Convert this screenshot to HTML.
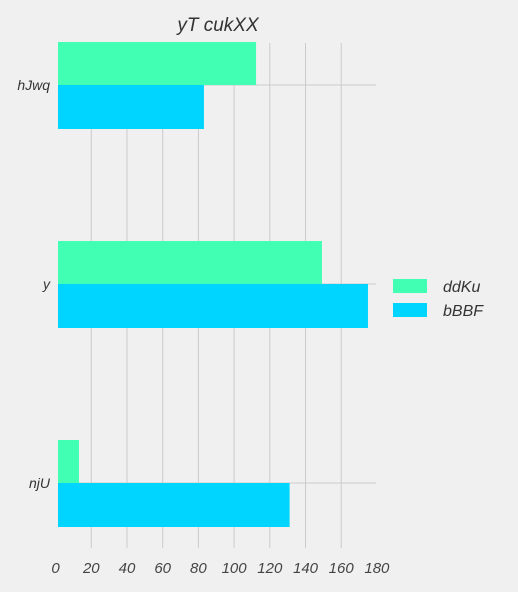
<!DOCTYPE html>
<html><head><meta charset="utf-8"><style>
body{margin:0;background:#f0f0f0;}
svg{display:block;font-family:"Liberation Sans",sans-serif;}
</style></head><body>
<svg width="518" height="592" viewBox="0 0 518 592" id="chart">
<rect width="518" height="592" fill="#f0f0f0"/>
<text x="218" y="31" text-anchor="middle" font-size="19" font-style="italic" fill="#333">yT cukXX</text>
<g id="grid"></g><g id="bars"></g><g id="labels"></g>
<g>
<rect x="393" y="279" width="34" height="14" fill="#41ffb3"/>
<text x="443" y="292" font-size="16" font-style="italic" fill="#333">ddKu</text>
<rect x="393" y="303" width="34" height="14" fill="#00d5ff"/>
<text x="443" y="316" font-size="16" font-style="italic" fill="#333">bBBF</text>
</g>
</svg>
<script>
const categories=["hJwq","y","njU"];
const ddKu=[112.3,149.2,13.1];
const bBBF=[83.1,175,131.1];
const ticks=[0,20,40,60,80,100,120,140,160,180];
const NS="http://www.w3.org/2000/svg";
const x=v=>55.6+1.785*v;
const yc=i=>85+199*i;
const plotLeft=58,plotRight=376,plotTop=43,plotBottom=548,bh=43;
function mk(t,a,p){const e=document.createElementNS(NS,t);for(const k in a)e.setAttribute(k,a[k]);p.appendChild(e);return e;}
const g=document.getElementById('grid'),b=document.getElementById('bars'),l=document.getElementById('labels');
ticks.forEach(t=>{
 if(t>0&&x(t)<plotRight-2){const ln=mk('line',{x1:x(t),x2:x(t),y1:plotTop,y2:plotBottom,stroke:'#cbcbcb','stroke-width':1},g);
 
 }
 const tx=mk('text',{x:x(t),y:573,'text-anchor':'middle','font-size':15,'font-style':'italic',fill:'#444'},l);
 tx.textContent=t;
 
 
});
categories.forEach((c,i)=>{
 const ln=mk('line',{x1:plotLeft,x2:plotRight,y1:yc(i),y2:yc(i),stroke:'#cbcbcb','stroke-width':1},g);
 
 
 const r1=mk('rect',{x:plotLeft,y:yc(i)-bh,width:Math.max(0,x(ddKu[i])-plotLeft),height:bh,fill:'#41ffb3'},b);
 
 
 const r2=mk('rect',{x:plotLeft,y:yc(i),width:Math.max(0,x(bBBF[i])-plotLeft),height:bh+1,fill:'#00d5ff'},b);
 
 
 const tx=mk('text',{x:50,y:yc(i)+5,'text-anchor':'end','font-size':14,'font-style':'italic',fill:'#333'},l);
 tx.textContent=c;
 
 
});
</script>
</body></html>
